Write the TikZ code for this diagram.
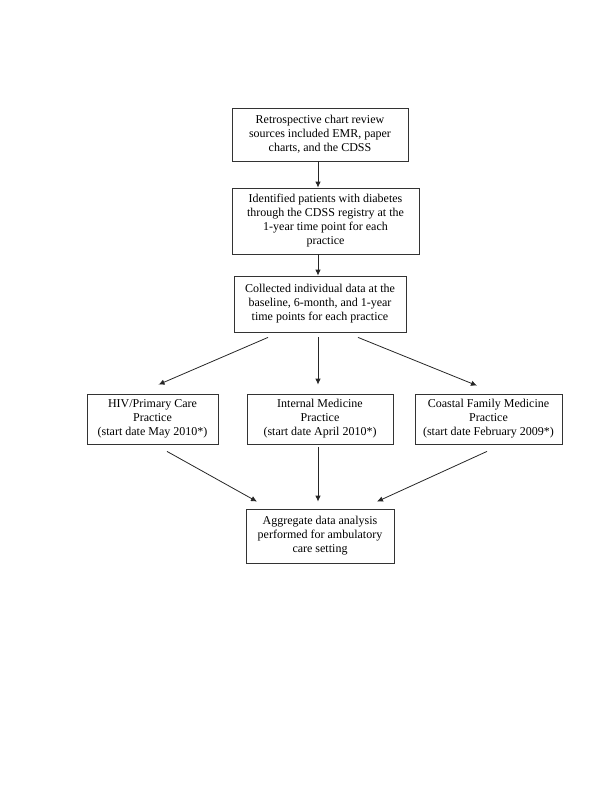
\documentclass[tikz,border=0pt]{standalone}
\usepackage{fontspec}
\setmainfont{Liberation Serif}
\usetikzlibrary{arrows.meta,positioning}

\begin{document}
\begin{tikzpicture}[
		x=1pt, y=-1pt,
		font=\fontsize{12}{14}\selectfont,
		box/.style={draw=black!80, line width=0.8pt, align=center, inner sep=0pt},
		arr/.style={-{Latex[length=6pt,width=5.5pt]}, line width=0.8pt, black!85},
	]

	% page frame
	\useasboundingbox (0,0) rectangle (612,792);

	% x coordinates
	\def\xleft{152.5}
	\def\xmid{320}
	\def\xright{488.5}

	% main column
	\node[box, minimum width=176pt, minimum height=53pt] (sources) at (\xmid, 134.5)
	{Retrospective chart review\\sources included EMR, paper\\charts, and the CDSS};

	\node[box, minimum width=187pt, minimum height=66pt] (registry) at (325.5, 221)
	{Identified patients with diabetes\\through the CDSS registry at the\\1-year time point for each\\practice};

	\node[box, minimum width=172pt, minimum height=56pt] (collect) at (\xmid, 304)
	{Collected individual data at the\\baseline, 6-month, and 1-year\\time points for each practice};

	% practices
	\node[box, minimum width=131pt, minimum height=50pt] (hiv) at (\xleft, 419)
	{HIV/Primary Care\\Practice\\(start date May 2010*)};

	\node[box, minimum width=146pt, minimum height=50pt] (intmed) at (\xmid, 419)
	{Internal Medicine\\Practice\\(start date April 2010*)};

	\node[box, minimum width=147pt, minimum height=50pt] (coastal) at (\xright, 419)
	{Coastal Family Medicine\\Practice\\(start date February 2009*)};

	\node[box, minimum width=148pt, minimum height=54pt] (aggregate) at (\xmid, 536)
	{Aggregate data analysis\\performed for ambulatory\\care setting};

	% arrows down the column
	\draw[arr] ([xshift=-2pt]sources.south) -- ([xshift=-2pt]sources.south |- registry.north);
	\draw[arr] ([xshift=-2pt]collect.north |- registry.south) -- ([xshift=-2pt]collect.north);

	% split into practices
	\draw[arr] ([xshift=-52pt, yshift=-5pt]collect.south) -- ([xshift=6pt, yshift=9pt]hiv.north);
	\draw[arr] ([xshift=-2pt, yshift=-5pt]collect.south) -- ([xshift=-2pt, yshift=9pt]intmed.north);
	\draw[arr] ([xshift=38pt, yshift=-5pt]collect.south) -- ([xshift=-11.5pt, yshift=8pt]coastal.north);

	% merge into analysis
	\draw[arr] ([xshift=14.5pt, yshift=-7pt]hiv.south) -- ([xshift=-63pt, yshift=7pt]aggregate.north);
	\draw[arr] ([xshift=-2pt, yshift=-3pt]intmed.south) -- ([xshift=-2pt, yshift=7pt]aggregate.north);
	\draw[arr] ([xshift=-1.5pt, yshift=-7pt]coastal.south) -- ([xshift=57pt, yshift=7pt]aggregate.north);

\end{tikzpicture}
\end{document}
